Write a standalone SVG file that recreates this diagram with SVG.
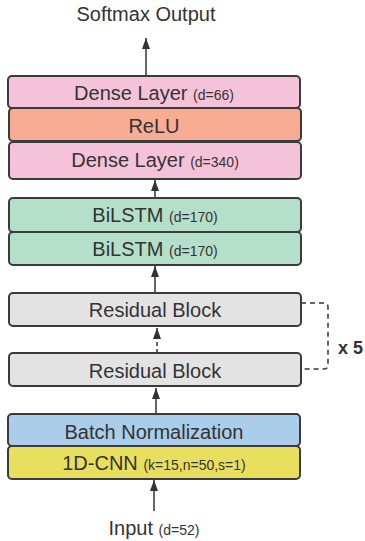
<svg xmlns="http://www.w3.org/2000/svg" width="365" height="541" viewBox="0 0 365 541">
<defs>
<marker id="ah" markerWidth="11" markerHeight="8" refX="11" refY="4" orient="auto" markerUnits="userSpaceOnUse" viewBox="0 0 11 8">
<path d="M0,0 L11,4 L0,8 Z" fill="#333"/>
</marker>
</defs>
<style>
text{font-family:"Liberation Sans",Arial,sans-serif;fill:#333;}
.t{font-size:20px;}
.s{font-size:14px;}
.box{stroke:#3b3b3b;stroke-width:2;}
.c{stroke:#333;stroke-width:1.5;fill:none;}
</style>
<rect width="365" height="541" fill="#fff"/>
<g id="connectors">
<line class="c" x1="146" y1="76" x2="146" y2="38" marker-end="url(#ah)"/>
<line class="c" x1="155" y1="197" x2="155" y2="180" marker-end="url(#ah)"/>
<line class="c" x1="155" y1="293" x2="155" y2="266" marker-end="url(#ah)"/>
<line class="c" x1="157" y1="353" x2="157" y2="328" stroke-dasharray="4,3" marker-end="url(#ah)"/>
<line class="c" x1="156" y1="414" x2="156" y2="388" marker-end="url(#ah)"/>
<line class="c" x1="154" y1="511" x2="154" y2="480" marker-end="url(#ah)"/>
<path class="c" d="M301,303 H324 Q328,303 328,307 V365 Q328,369 324,369 H301" stroke-dasharray="5,4"/>
</g>
<g id="softmax"><text class="t" x="146" y="21" text-anchor="middle">Softmax Output</text></g>
<g id="dense66">
<rect class="box" x="8" y="76" width="292" height="32" rx="4" fill="#f5c3d9"/>
<text x="154" y="100" text-anchor="middle"><tspan class="t">Dense Layer </tspan><tspan class="s">(d=66)</tspan></text>
</g>
<g id="relu">
<rect class="box" x="9" y="108" width="292" height="33" rx="4" fill="#f7ac93"/>
<text class="t" x="154" y="133" text-anchor="middle">ReLU</text>
</g>
<g id="dense340">
<rect class="box" x="9" y="142" width="292" height="37" rx="4" fill="#f5c3d9"/>
<text x="155" y="167" text-anchor="middle"><tspan class="t">Dense Layer </tspan><tspan class="s">(d=340)</tspan></text>
</g>
<g id="bilstm1">
<rect class="box" x="9" y="198" width="292" height="34" rx="4" fill="#b4dfca"/>
<text x="155" y="222" text-anchor="middle"><tspan class="t">BiLSTM </tspan><tspan class="s">(d=170)</tspan></text>
</g>
<g id="bilstm2">
<rect class="box" x="9" y="232" width="292" height="33" rx="4" fill="#b4dfca"/>
<text x="155" y="256" text-anchor="middle"><tspan class="t">BiLSTM </tspan><tspan class="s">(d=170)</tspan></text>
</g>
<g id="res1">
<rect class="box" x="9" y="293" width="292" height="33" rx="4" fill="#e3e3e3"/>
<text class="t" x="155" y="317" text-anchor="middle">Residual Block</text>
</g>
<g id="res2">
<rect class="box" x="9" y="353" width="292" height="33" rx="4" fill="#e3e3e3"/>
<text class="t" x="155" y="378" text-anchor="middle">Residual Block</text>
</g>
<g id="x5"><text x="338" y="354" font-size="18" font-weight="bold">x 5</text></g>
<g id="bn">
<rect class="box" x="8" y="414" width="292" height="32" rx="4" fill="#a9cdea"/>
<text class="t" x="154" y="439" text-anchor="middle">Batch Normalization</text>
</g>
<g id="cnn">
<rect class="box" x="8" y="446" width="292" height="33" rx="4" fill="#e9df5e"/>
<text x="154" y="470" text-anchor="middle"><tspan class="t">1D-CNN </tspan><tspan class="s">(k=15,n=50,s=1)</tspan></text>
</g>
<g id="input"><text x="154" y="535" text-anchor="middle"><tspan class="t">Input </tspan><tspan class="s">(d=52)</tspan></text></g>
</svg>
